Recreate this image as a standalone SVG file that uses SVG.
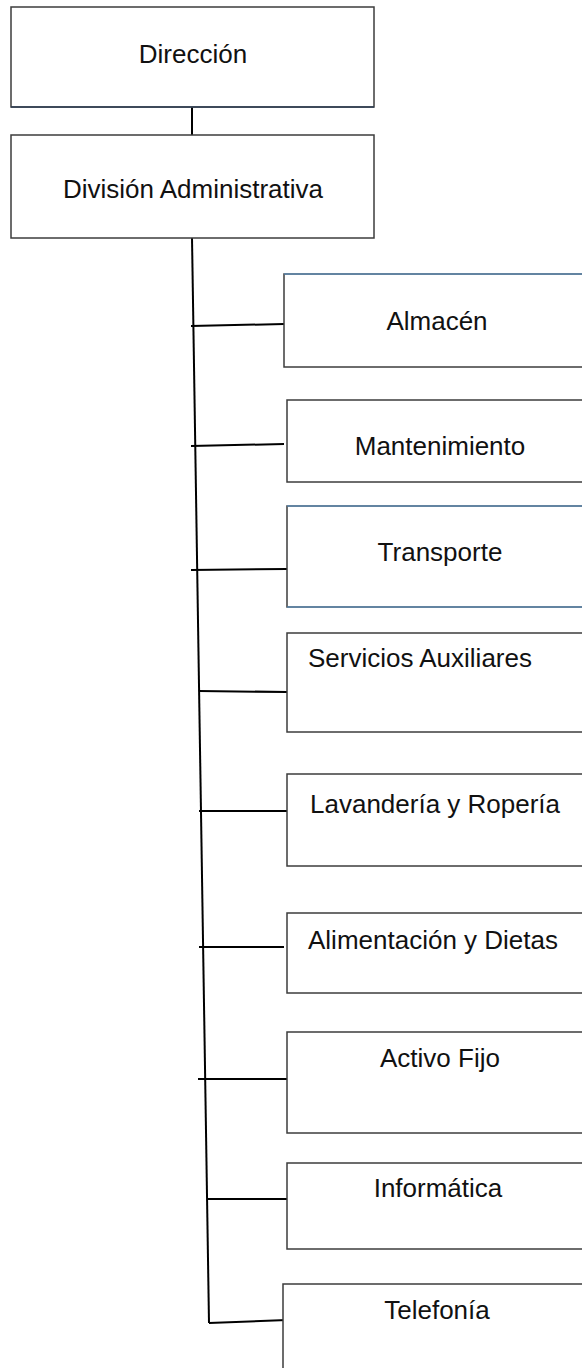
<svg xmlns="http://www.w3.org/2000/svg" width="582" height="1368" viewBox="0 0 582 1368">
<style>
.box{fill:#ffffff;stroke:#3c3c3c;stroke-width:1.5}
.blue{stroke:#5b9bd5;stroke-width:1.2;fill:none}
.lbl{font-family:"Liberation Sans",Arial,sans-serif;font-size:26px;fill:#111111}
.c{text-anchor:middle}
.conn line,.conn polyline{stroke:#000000;stroke-width:2;fill:none}
</style>
<rect width="582" height="1368" fill="#ffffff"/>
<g class="conn" id="connectors">
<line x1="192" y1="107" x2="192" y2="135"/>
<line x1="192" y1="238" x2="209" y2="1323"/>
<line x1="191" y1="326" x2="284" y2="324"/>
<line x1="191" y1="446" x2="284" y2="444"/>
<line x1="191" y1="570" x2="287" y2="569"/>
<line x1="199" y1="691" x2="287" y2="692"/>
<line x1="199" y1="811" x2="287" y2="811"/>
<line x1="199" y1="947" x2="284" y2="947"/>
<line x1="198" y1="1079" x2="287" y2="1079"/>
<line x1="208" y1="1199" x2="287" y2="1199"/>
<line x1="209" y1="1323" x2="287" y2="1320"/>
</g>
<g id="direccion">
<rect class="box" x="11" y="7" width="363" height="100"/>
<line x1="11" y1="107" x2="374" y2="107" stroke="#2f3f55" stroke-width="1.5"/>
<text class="lbl c" x="193" y="63">Dirección</text>
</g>
<g id="division">
<rect class="box" x="11" y="135" width="363" height="103"/>
<text class="lbl c" x="193" y="198">División Administrativa</text>
</g>
<g id="almacen">
<rect class="box" x="284" y="274" width="320" height="93"/>
<line class="blue" x1="284" y1="274" x2="590" y2="274"/>
<text class="lbl c" x="437" y="330">Almacén</text>
</g>
<g id="mantenimiento">
<rect class="box" x="287" y="400" width="320" height="82"/>
<text class="lbl c" x="440" y="455">Mantenimiento</text>
</g>
<g id="transporte">
<rect class="box" x="287" y="506" width="320" height="101"/>
<line class="blue" x1="287" y1="506" x2="590" y2="506"/>
<line class="blue" x1="287" y1="607" x2="590" y2="607"/>
<text class="lbl c" x="440" y="561">Transporte</text>
</g>
<g id="servicios">
<rect class="box" x="287" y="633" width="320" height="99"/>
<text class="lbl" x="308" y="667">Servicios Auxiliares</text>
</g>
<g id="lavanderia">
<rect class="box" x="287" y="774" width="320" height="92"/>
<text class="lbl" x="310" y="813">Lavandería y Ropería</text>
</g>
<g id="alimentacion">
<rect class="box" x="287" y="913" width="320" height="80"/>
<text class="lbl" x="308" y="949">Alimentación y Dietas</text>
</g>
<g id="activo">
<rect class="box" x="287" y="1032" width="320" height="101"/>
<text class="lbl c" x="440" y="1067">Activo Fijo</text>
</g>
<g id="informatica">
<rect class="box" x="287" y="1163" width="320" height="86"/>
<text class="lbl c" x="438" y="1197">Informática</text>
</g>
<g id="telefonia">
<rect class="box" x="283" y="1284" width="320" height="120"/>
<text class="lbl c" x="437" y="1319">Telefonía</text>
</g>
</svg>
